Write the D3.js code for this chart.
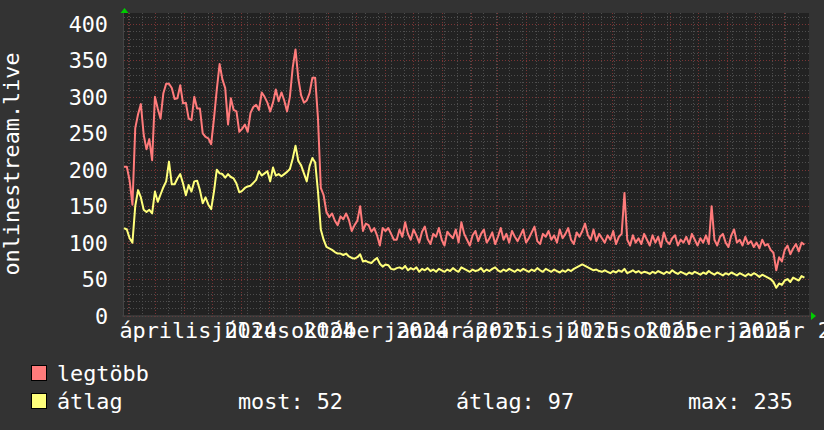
<!DOCTYPE html>
<html>
<head>
<meta charset="utf-8">
<script src="https://cdn.jsdelivr.net/npm/d3@7/dist/d3.min.js"></script>
<style>
body { margin: 0; background: #333333; }
text { font-family: "DejaVu Sans Mono", monospace; fill: #ffffff; }
</style>
</head>
<body>
<svg width="824" height="430"></svg>
<script>
var width = 824;
var height = 430;

// data: one point every 3 days from the left edge of the graph
var startDate = Date.UTC(2024, 0, 27, 19);
var endDate = Date.UTC(2026, 0, 27, 17);
var stepDays = 3;

var legtobb = [
  204,204,185,152,257,276,290,248,228,242,213,300,284,270,305,318,318,312,297,298,
  316,291,292,270,268,300,284,284,250,245,243,235,270,310,345,324,312,262,298,282,
  280,252,256,262,252,278,286,289,282,306,300,292,280,292,310,294,306,295,280,300,
  340,365,325,302,292,295,305,326,326,270,175,165,142,135,140,130,124,136,132,140,
  131,116,124,130,150,116,126,124,115,120,110,96,120,116,120,112,104,104,
  118,108,128,112,104,118,110,100,115,122,105,98,112,
  108,120,104,96,115,110,106,118,100,128,112,104,96,110,116,
  102,112,118,100,106,114,98,108,120,104,112,100,116,108,102,
  110,118,100,106,114,122,102,98,112,108,116,104,110,100,118,
  106,112,120,104,98,114,108,116,126,110,104,118,102,112,106,
  100,110,104,116,98,108,112,168,104,96,110,100,106,98,112,
  104,96,110,100,108,94,114,102,98,106,110,96,104,100,108,
  98,112,104,96,106,100,110,98,150,104,96,108,112,100,94,
  110,118,100,104,96,108,98,102,94,100,92,104,96,98,90,
  86,62,80,74,90,96,84,92,98,88,100,97
];

var atlag = [
  120,118,106,100,150,172,162,145,142,145,140,170,156,166,176,184,211,180,180,188,
  194,181,165,179,170,184,185,172,154,162,152,146,170,200,195,194,189,194,190,188,
  181,169,171,175,177,178,182,186,198,192,195,198,184,203,192,194,191,194,197,201,
  215,233,212,206,195,184,205,216,210,170,118,104,94,92,90,87,85,85,83,85,
  81,79,78,80,84,74,75,73,72,76,79,71,67,70,69,64,63,65,
  66,64,68,62,65,63,66,60,64,62,65,61,63,
  60,64,62,60,63,61,65,62,60,66,64,62,60,63,61,
  62,65,60,63,61,64,66,62,60,63,61,64,62,60,63,
  61,64,62,60,63,61,65,62,60,64,62,60,63,61,59,
  62,60,63,61,64,66,68,70,68,66,64,62,63,61,60,
  62,60,58,61,59,62,60,64,58,60,62,59,61,58,60,
  59,57,60,58,61,59,57,60,58,62,59,57,60,58,56,
  59,57,60,58,56,59,57,61,58,56,59,57,55,58,56,
  59,57,55,58,56,54,57,55,58,56,53,56,54,52,50,
  46,38,44,42,48,50,46,52,50,48,54,52
];

var yTicks = [0, 50, 100, 150, 200, 250, 300, 350, 400];
var xLabels = ["április 2024", "július 2024", "október 2024", "január 2025",
               "április 2025", "július 2025", "október 2025", "január 2026"];
var xLabelMonths = [[2024, 3], [2024, 6], [2024, 9], [2025, 0],
                    [2025, 3], [2025, 6], [2025, 9], [2026, 0]];

var seriesNames = ["legtöbb", "átlag"];
var seriesColors = ["#ff7b7b", "#ffff7b"];
var statLabels = ["most: 52", "átlag: 97", "max: 235"];

var plot = { left: 124, right: 809, top: 13, bottom: 315.5 };
var fontSize = 21.8;

var svg = d3.select("svg");

var x = d3.scaleUtc()
  .domain([new Date(startDate), new Date(endDate)])
  .range([plot.left, plot.right]);

var y = d3.scaleLinear()
  .domain([0, 415])
  .range([plot.bottom, plot.top]);

function pointDate(i) { return new Date(startDate + i * stepDays * 864e5); }

// plot background
svg.append("rect")
  .attr("x", plot.left).attr("y", plot.top)
  .attr("width", plot.right - plot.left).attr("height", plot.bottom - plot.top)
  .attr("fill", "#222222");

// horizontal grid
var grid = svg.append("g");
d3.range(0, 411, 10).forEach(function(v) {
  grid.append("line")
    .attr("x1", plot.left).attr("x2", plot.right)
    .attr("y1", Math.round(y(v)) + 0.5).attr("y2", Math.round(y(v)) + 0.5)
    .attr("stroke", v % 50 == 0 ? "#7a3434" : "#4e4e4e")
    .attr("stroke-dasharray", "1,2");
});

// vertical grid: every 2 weeks minor, month starts major
var minorDays = d3.utcDay.every(1).range(x.domain()[0], x.domain()[1])
  .filter(function(d) { return Math.round((d - Date.UTC(2025, 10, 21)) / 864e5) % 14 == 0; });
minorDays.forEach(function(d) {
  var px = Math.round(x(d)) + 0.5;
  grid.append("line")
    .attr("x1", px).attr("x2", px)
    .attr("y1", plot.top).attr("y2", plot.bottom + 2)
    .attr("stroke", "#4e4e4e")
    .attr("stroke-dasharray", "1,2");
});
d3.utcMonth.range(x.domain()[0], x.domain()[1]).forEach(function(d) {
  var px = Math.round(x(d)) + 0.5;
  grid.append("line")
    .attr("x1", px).attr("x2", px)
    .attr("y1", plot.top).attr("y2", plot.bottom + 2)
    .attr("stroke", "#7a3434")
    .attr("stroke-dasharray", "1,2");
});

// axis lines
svg.append("line")
  .attr("x1", plot.left - 0.5).attr("x2", plot.left - 0.5)
  .attr("y1", plot.top - 2).attr("y2", plot.bottom + 1)
  .attr("stroke", "#444");
svg.append("line")
  .attr("x1", plot.left - 2).attr("x2", plot.right + 2)
  .attr("y1", plot.bottom + 0.5).attr("y2", plot.bottom + 0.5)
  .attr("stroke", "#444");

// green arrows
svg.append("path")
  .attr("d", "M" + (plot.left - 3.5) + ",13L" + (plot.left + 0.5) + ",8L" + (plot.left + 4.5) + ",13Z")
  .attr("fill", "#00cc00");
svg.append("path")
  .attr("d", "M811," + (plot.bottom - 3.5) + "L816," + (plot.bottom + 0.5) + "L811," + (plot.bottom + 4.5) + "Z")
  .attr("fill", "#00cc00");

// lines
var line = d3.line()
  .x(function(d, i) { return x(pointDate(i)); })
  .y(function(d) { return y(d); });

[legtobb, atlag].forEach(function(data, k) {
  svg.append("path")
    .datum(data)
    .attr("fill", "none")
    .attr("stroke", seriesColors[k])
    .attr("stroke-width", 2)
    .attr("stroke-linejoin", "round")
    .attr("d", line);
});

// y axis labels
svg.selectAll(".ylab")
  .data(yTicks).enter()
  .append("text")
  .attr("x", 108)
  .attr("y", function(d) { return y(d) + 8; })
  .attr("text-anchor", "end")
  .attr("font-size", fontSize)
  .text(function(d) { return d; });

// x axis labels, centred half a month after the quarter start
svg.selectAll(".xlab")
  .data(xLabels).enter()
  .append("text")
  .attr("x", function(d, i) {
    return x(new Date(Date.UTC(xLabelMonths[i][0], xLabelMonths[i][1], 16)));
  })
  .attr("y", 338)
  .attr("text-anchor", "middle")
  .attr("font-size", fontSize)
  .text(function(d) { return d; });

// y axis title
svg.append("text")
  .attr("transform", "translate(19,164) rotate(-90)")
  .attr("text-anchor", "middle")
  .attr("font-size", fontSize)
  .text("onlinestream.live");

// legend
var legend = svg.append("g");
seriesNames.forEach(function(name, k) {
  var ly = 365 + k * 28;
  legend.append("rect")
    .attr("x", 31.5).attr("y", ly + 0.5)
    .attr("width", 15).attr("height", 15)
    .attr("fill", seriesColors[k])
    .attr("stroke", "#000");
  legend.append("text")
    .attr("x", 57)
    .attr("y", ly + 16)
    .attr("font-size", fontSize)
    .text(name);
});
var statX = [238, 456, 688];
statLabels.forEach(function(s, k) {
  legend.append("text")
    .attr("x", statX[k])
    .attr("y", 409)
    .attr("font-size", fontSize)
    .text(s);
});
</script>
</body>
</html>
